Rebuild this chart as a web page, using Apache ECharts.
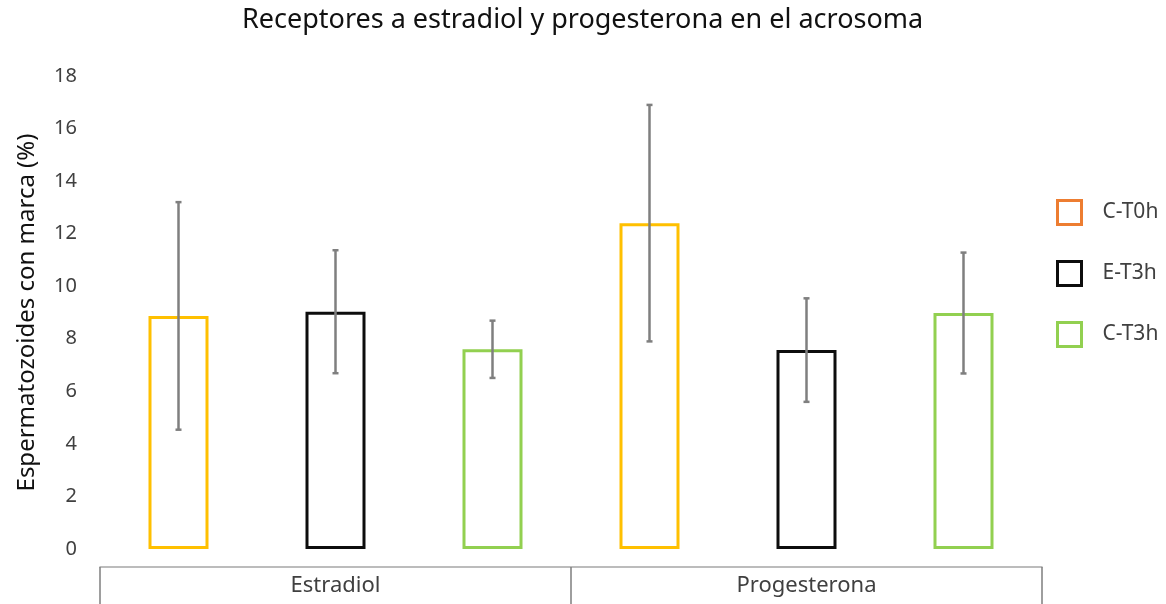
<!DOCTYPE html>
<html>
<head>
<meta charset="utf-8">
<title>Receptores a estradiol y progesterona en el acrosoma</title>
<script src="https://cdn.jsdelivr.net/npm/echarts@6/dist/echarts.min.js"></script>
<style>
  html, body { margin: 0; padding: 0; background: #ffffff; }
  #chart { width: 1166px; height: 604px; }
</style>
</head>
<body>
<div id="chart"></div>
<script>
// Hormone receptor groups on the category axis
const categories = ['Estradiol', 'Progesterona'];

// Treatment series names
const seriesNames = ['C-T0h', 'E-T3h', 'C-T3h'];

// Mean percentage of labelled spermatozoa per group
const ct0hMean = [8.87, 12.40];
const et3hMean = [9.03, 7.57];
const ct3hMean = [7.60, 8.98];

// Error bar half-lengths (±)
const ct0hErr = [4.33, 4.50];
const et3hErr = [2.34, 1.97];
const ct3hErr = [1.09, 2.30];

// Value axis range
const yMin = 0;
const yMax = 18;
const yStep = 2;

// Styling
const FONT = 'Noto Sans';
const BAR_WIDTH = 60;
const BAR_SPACING = 97;            // gap between neighbouring bars, px
const barBorder = ['#FFC000', '#0d0d0d', '#92D050'];
const legendBorder = ['#ED7D31', '#0d0d0d', '#92D050'];
const ERR_COLOR = '#7F7F7F';

const means = [ct0hMean, et3hMean, ct3hMean];
const errs = [ct0hErr, et3hErr, ct3hErr];

const chart = echarts.init(document.getElementById('chart'), null, { renderer: 'canvas' });

const barSeries = seriesNames.map((name, i) => ({
  name: name,
  type: 'bar',
  xAxisIndex: 0,
  yAxisIndex: 0,
  data: means[i],
  barWidth: BAR_WIDTH,
  barGap: (BAR_SPACING / BAR_WIDTH * 100) + '%',
  itemStyle: {
    color: '#ffffff',
    borderColor: barBorder[i],
    borderWidth: 3
  },
  emphasis: { disabled: true },
  z: 2
}));

// Error bars drawn through the centre of each bar
const errorSeries = seriesNames.map((name, i) => ({
  name: name + ' error',
  type: 'custom',
  xAxisIndex: 0,
  yAxisIndex: 0,
  data: categories.map((c, k) => [k, means[i][k], errs[i][k]]),
  z: 5,
  silent: true,
  renderItem: function (params, api) {
    const k = api.value(0);
    const m = api.value(1);
    const e = api.value(2);
    const offset = (i - 1) * (BAR_WIDTH + BAR_SPACING);
    const top = api.coord([k, m + e]);
    const bot = api.coord([k, m - e]);
    const x = top[0] + offset;
    const cap = 3;
    const style = { stroke: ERR_COLOR, lineWidth: 2.5, fill: null };
    return {
      type: 'group',
      children: [
        { type: 'line', shape: { x1: x, y1: top[1], x2: x, y2: bot[1] }, style: style },
        { type: 'line', shape: { x1: x - cap, y1: top[1], x2: x + cap, y2: top[1] }, style: style },
        { type: 'line', shape: { x1: x - cap, y1: bot[1], x2: x + cap, y2: bot[1] }, style: style }
      ]
    };
  }
}));

const option = {
  animation: false,
  backgroundColor: '#ffffff',
  textStyle: { fontFamily: FONT },
  title: {
    text: 'Receptores a estradiol y progesterona en el acrosoma',
    left: 237,
    top: 2,
    textStyle: { fontFamily: FONT, fontSize: 27, fontWeight: 'normal', color: '#111111' }
  },
  legend: {
    orient: 'vertical',
    left: 1056,
    top: 199,
    padding: 0,
    itemWidth: 24,
    itemHeight: 24,
    itemGap: 34,
    icon: 'rect',
    selectedMode: false,
    textStyle: { fontFamily: FONT, fontSize: 21, color: '#404040', padding: [0, 0, 0, 16] },
    data: seriesNames.map((name, i) => ({
      name: name,
      itemStyle: { color: '#ffffff', borderColor: legendBorder[i], borderWidth: 3 }
    }))
  },
  grid: [
    // plotting area for the bars
    { left: 100, right: 124, top: 76, bottom: 55, outerBoundsMode: 'none', containLabel: false },
    // strip below it that carries the group labels
    { left: 100, right: 124, top: 560, height: 7, outerBoundsMode: 'none', containLabel: false }
  ],
  xAxis: [
    {
      type: 'category',
      gridIndex: 0,
      data: categories,
      show: false
    },
    {
      type: 'category',
      gridIndex: 1,
      data: categories,
      axisLine: { show: true, lineStyle: { color: '#A6A6A6', width: 1.5 } },
      axisTick: { show: true, length: 40, lineStyle: { color: '#7F7F7F', width: 1.5 } },
      axisLabel: { fontFamily: FONT, fontSize: 22, color: '#404040', margin: 8 },
      splitLine: { show: false }
    }
  ],
  yAxis: [
    {
      type: 'value',
      gridIndex: 0,
      min: yMin,
      max: yMax,
      interval: yStep,
      name: 'Espermatozoides con marca (%)',
      nameLocation: 'middle',
      nameRotate: 90,
      nameGap: 61,
      nameTextStyle: { fontFamily: FONT, fontSize: 24, color: '#111111' },
      axisLine: { show: false },
      axisTick: { show: false },
      splitLine: { show: false },
      axisLabel: { fontFamily: FONT, fontSize: 20, color: '#404040', margin: 23 }
    },
    {
      type: 'value',
      gridIndex: 1,
      show: false
    }
  ],
  series: barSeries.concat(errorSeries)
};

chart.setOption(option);
</script>
</body>
</html>
